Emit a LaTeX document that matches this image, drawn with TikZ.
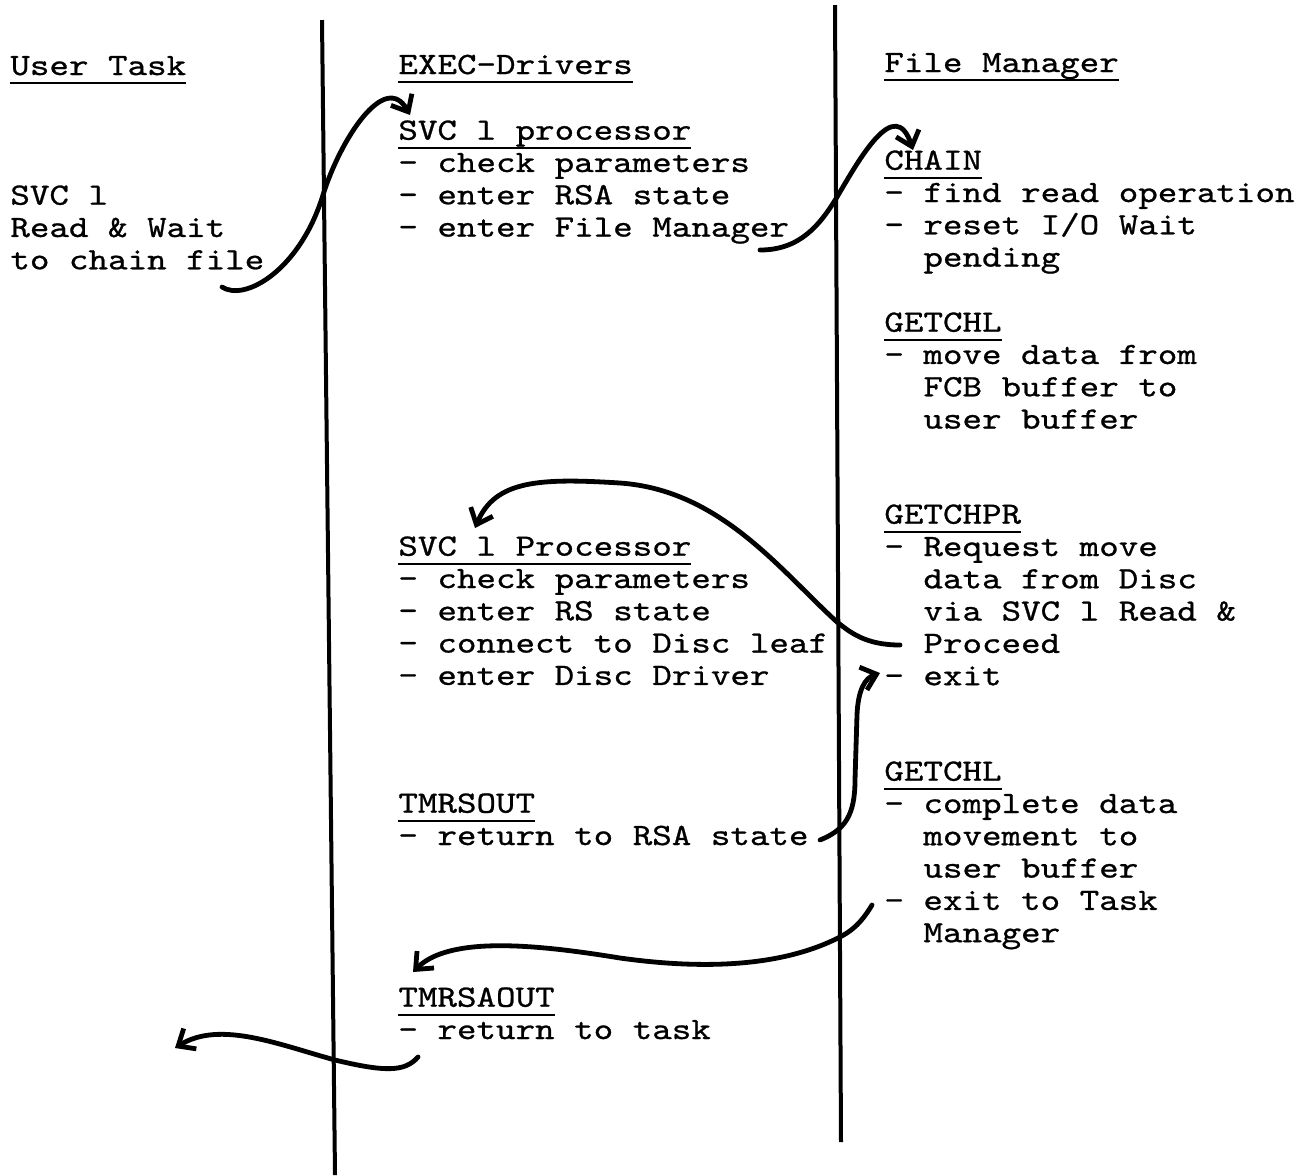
\documentclass[tikz,border=0pt]{standalone}
\usepackage{fontspec}
\newfontfamily\typer[FakeStretch=1.2,FakeBold=0.8]{lmmono10-regular.otf}
\usetikzlibrary{arrows.meta}

% underlined heading, typewriter style
\newcommand{\hdr}[1]{\setbox0=\hbox{#1}\rlap{\rule[-4.5pt]{\wd0}{1pt}}\box0}
% indent of a continued item
\newcommand{\cont}{\hphantom{xx}}

\begin{document}
\begin{tikzpicture}[
    x=0.5pt, y=-0.5pt,
    txt/.style={
        anchor=north west,
        inner sep=0pt,
        align=left,
        font=\typer\fontsize{15.5pt}{16.15pt}\selectfont,
        execute at begin node=\strut
    },
    lane/.style={
        line width=2pt
    },
    flow/.style={
        -{Straight Barb[length=7pt,width=12pt]},
        line width=2.4pt,
        line cap=round,
        line join=round
    }
]
\useasboundingbox (0,0) rectangle (1312,1175);

% swim lane separators
\coordinate (lane1-top) at (322,20);
\coordinate (lane1-bot) at (335,1175);
\coordinate (lane2-top) at (835,5);
\coordinate (lane2-bot) at (841,1142);
\draw[lane] (lane1-top) -- (lane1-bot);
\draw[lane] (lane2-top) -- (lane2-bot);

% Column headings
\node[txt] (head-user) at (10,52) {\hdr{User Task}};
\node[txt] (head-exec) at (398,51) {\hdr{EXEC-Drivers}};
\node[txt] (head-fm) at (884,49) {\hdr{File Manager}};

% User task
\node[txt] (user) at (10,185) {
    SVC l\\
    Read \& Wait\\
    to chain file
};

% EXEC-Drivers column
\node[txt] (svc-first) at (398,120) {
    \hdr{SVC l processor}\\
    - check parameters\\
    - enter RSA state\\
    - enter File Manager
};
\node[txt] (svc-second) at (398,536) {
    \hdr{SVC l Processor}\\
    - check parameters\\
    - enter RS state\\
    - connect to Disc leaf\\
    - enter Disc Driver
};
\node[txt] (tmrsout) at (398,793) {
    \hdr{TMRSOUT}\\
    - return to RSA state
};
\node[txt] (tmrsaout) at (398,987) {
    \hdr{TMRSAOUT}\\
    - return to task
};

% File Manager column
\node[txt] (chain) at (884,150) {
    \hdr{CHAIN}\\
    - find read operation\\
    - reset I/O Wait\\
    \cont pending
};
\node[txt] (getchl-first) at (884,312) {
    \hdr{GETCHL}\\
    - move data from\\
    \cont FCB buffer to\\
    \cont user buffer
};
\node[txt] (getchpr) at (884,504) {
    \hdr{GETCHPR}\\
    - Request move\\
    \cont data from Disc\\
    \cont via SVC l Read \&\\
    \cont Proceed\\
    - exit
};
\node[txt] (getchl-second) at (884,761) {
    \hdr{GETCHL}\\
    - complete data\\
    \cont movement to\\
    \cont user buffer\\
    - exit to Task\\
    \cont Manager
};

% hand drawn flow arrows
\coordinate (f1-start) at (222,287);
\coordinate (f1-end) at (410,115);
\draw[flow] (f1-start) .. controls (245,302) and (300,270) .. (323,195)
    .. controls (340,140) and (385,70) .. (f1-end);

\coordinate (f2-start) at (760,250);
\coordinate (f2-end) at (913,150);
\draw[flow] (f2-start) .. controls (800,250) and (820,225) .. (837,197)
    .. controls (860,158) and (895,95) .. (f2-end);

\coordinate (f3-start) at (900,645);
\coordinate (f3-end) at (475,528);
\draw[flow] (f3-start) .. controls (865,645) and (850,632) .. (837,622)
    .. controls (780,570) and (720,490) .. (620,483)
    .. controls (540,478) and (495,480) .. (f3-end);

\coordinate (f4-start) at (820,840);
\coordinate (f4-end) at (880,673);
\draw[flow] (f4-start) .. controls (845,830) and (855,815) .. (855,780)
    -- (857,715) .. controls (858,690) and (865,678) .. (f4-end);

\coordinate (f5-start) at (872,905);
\coordinate (f5-end) at (413,972);
\draw[flow] (f5-start) .. controls (860,925) and (850,932) .. (838,938)
    .. controls (790,962) and (720,972) .. (620,958)
    .. controls (540,945) and (450,935) .. (f5-end);

\coordinate (f6-start) at (418,1057);
\coordinate (f6-end) at (175,1048);
\draw[flow] (f6-start) .. controls (405,1072) and (385,1072) .. (335,1060)
    .. controls (280,1045) and (220,1020) .. (f6-end);

\end{tikzpicture}
\end{document}
